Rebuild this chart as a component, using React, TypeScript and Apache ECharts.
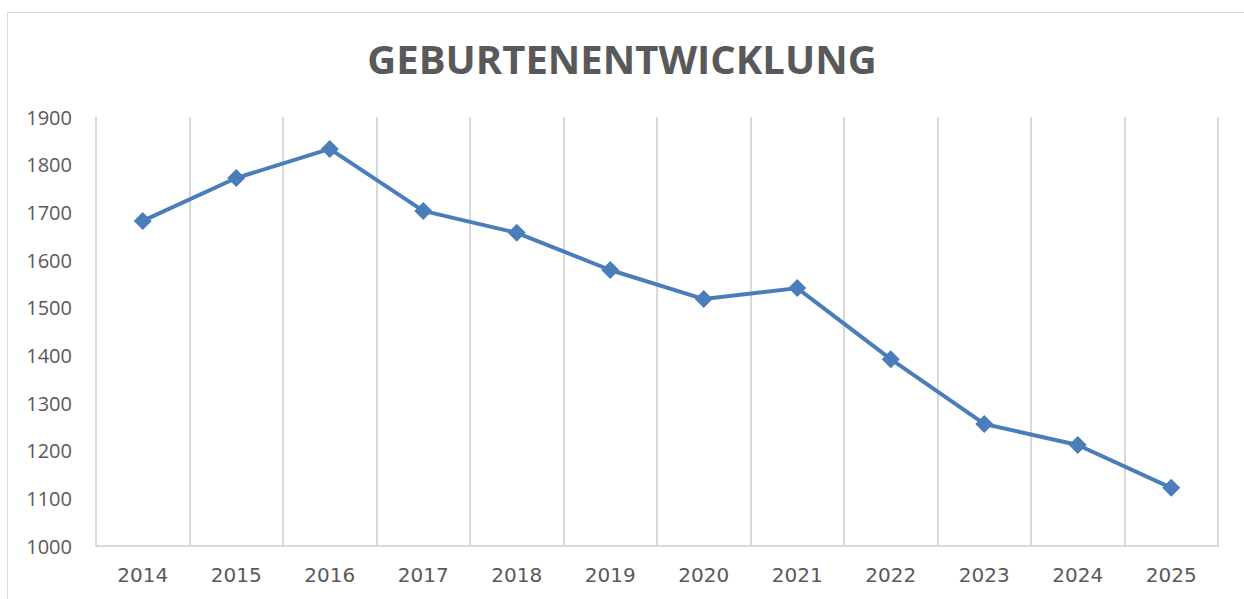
import React, { useEffect, useRef } from "react";
import * as echarts from "echarts";

const years = ["2014", "2015", "2016", "2017", "2018", "2019", "2020", "2021", "2022", "2023", "2024", "2025"];
const births = [1682, 1772, 1833, 1703, 1657, 1579, 1518, 1541, 1392, 1256, 1212, 1122];
const titleText = "GEBURTENENTWICKLUNG";

export default function App() {
  const ref = useRef<HTMLDivElement>(null);
  useEffect(() => {
    if (!ref.current) return;
    const chart = echarts.init(ref.current, undefined, { renderer: "svg" });
    chart.setOption({
      animation: false,
      backgroundColor: "#ffffff",
      title: {
        text: titleText,
        left: "center",
        top: 33,
        textStyle: { fontFamily: "Open Sans", fontWeight: "bold", fontSize: 40, color: "#595959" },
      },
      graphic: [
        {
          type: "rect",
          shape: { x: 7.5, y: 12.5, width: 1400, height: 800 },
          style: { fill: "none", stroke: "#d9d9d9", lineWidth: 1 },
          silent: true,
          z: -1,
        },
      ],
      grid: { left: 96, right: 26, top: 117, bottom: 53 },
      xAxis: {
        type: "category",
        data: years,
        boundaryGap: true,
        axisLine: { show: true, lineStyle: { color: "#d9d9d9", width: 2 } },
        axisTick: { show: false },
        splitLine: { show: true, lineStyle: { color: "#d9d9d9", width: 2 } },
        axisLabel: { fontFamily: "DejaVu Sans", fontSize: 20, color: "#595959", margin: 19 },
      },
      yAxis: {
        type: "value",
        min: 1000,
        max: 1900,
        interval: 100,
        axisLine: { show: false },
        axisTick: { show: false },
        splitLine: { show: false },
        axisLabel: {
          fontFamily: "Open Sans",
          fontSize: 20,
          color: "#595959",
          margin: 24,
          formatter: (v: number) => String(v),
        },
      },
      series: [
        {
          type: "line",
          data: births,
          symbol: "diamond",
          symbolSize: 18,
          lineStyle: { color: "#4a7ebb", width: 4 },
          itemStyle: { color: "#4a7ebb" },
        },
      ],
    });
    return () => chart.dispose();
  }, []);
  return <div ref={ref} style={{ position: "absolute", left: 0, top: 0, width: 1244, height: 599 }} />;
}
